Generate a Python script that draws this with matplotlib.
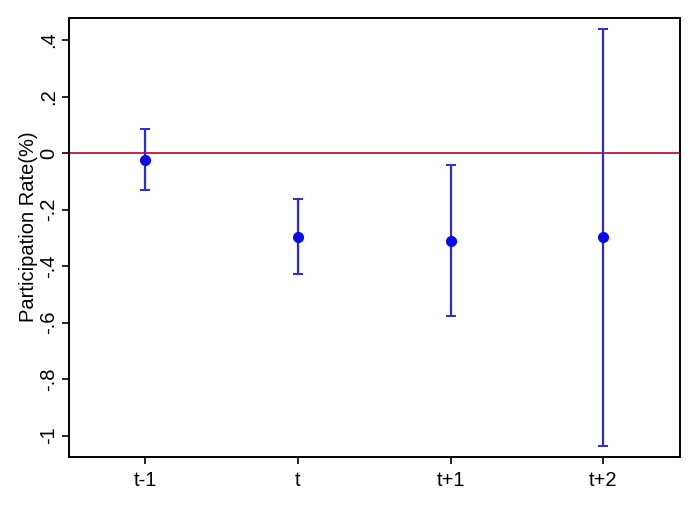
import matplotlib
matplotlib.use('Agg')
import matplotlib.pyplot as plt
import numpy as np

# event-time coefficients and 95% CI
labels = ['t-1', 't', 't+1', 't+2']
coef = [-0.025, -0.296, -0.310, -0.298]
ci_low = [-0.131, -0.429, -0.577, -1.036]
ci_high = [0.084, -0.162, -0.042, 0.438]

plt.rcParams['font.family'] = ['Liberation Sans', 'DejaVu Sans']

fig = plt.figure(figsize=(7, 5.09), dpi=100)
ax = fig.add_axes([0.0986, 0.1022, 0.8724, 0.8624])

x = np.arange(1, len(labels) + 1)
coef = np.array(coef)
err = [coef - np.array(ci_low), np.array(ci_high) - coef]

ax.axhline(0, color='#c8103e', linewidth=1.3, zorder=1)
ax.errorbar(x, coef, yerr=err, fmt='none', ecolor='#2a2ae0', elinewidth=1.6,
            capsize=3.5, capthick=1.4, zorder=2)
ax.plot(x, coef, 'o', color='#0a0aee', markersize=7, zorder=3)

ax.set_xlim(0.5, 4.5)
ax.set_ylim(-1.076, 0.478)
ax.set_xticks(x)
ax.set_xticklabels(labels)
yt = [-1, -0.8, -0.6, -0.4, -0.2, 0, 0.2, 0.4]
ax.set_yticks(yt)
ax.set_yticklabels(['-1', '-.8', '-.6', '-.4', '-.2', '0', '.2', '.4'],
                   rotation=90, va='center')
ax.tick_params(axis='both', labelsize=14.5, length=5, width=1.2, direction='out')
ax.tick_params(axis='x', pad=5)
ax.tick_params(axis='y', pad=3)
for s in ax.spines.values():
    s.set_linewidth(1.4)
ax.set_ylabel('Participation Rate(%)', fontsize=14.5)
ax.yaxis.set_label_coords(-0.05, 0.525)

fig.savefig('out.png', dpi=100)
